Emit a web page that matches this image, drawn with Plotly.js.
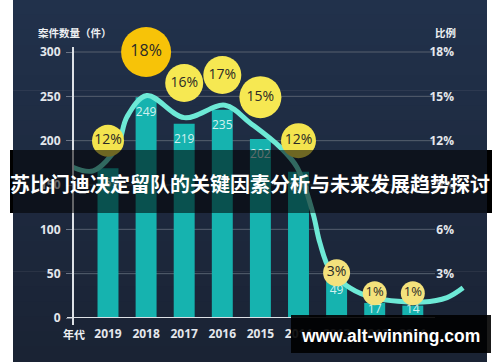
<!DOCTYPE html>
<html><head><meta charset="utf-8">
<script src="https://cdn.plot.ly/plotly-3.0.1.min.js"></script>
<style>html,body{margin:0;padding:0;background:#fff;}#chart{width:500px;height:362px;}</style>
</head><body><div id="chart"></div>
<script>
// ---- data ----
const years = ['2019','2018','2017','2016','2015','2014','2013','2012','2011'];
const caseCounts = [169, 249, 219, 235, 202, 165, 49, 17, 14];
const ratioLabels = ['12%','18%','16%','17%','15%','12%','3%','1%','1%'];
const trendX = [-0.92, -0.39, 0.24, 0.5, 1.02, 2.0, 3.07, 3.73, 4.51, 4.96, 5.38, 5.56, 5.83, 6.35, 6.96, 8.27, 8.9, 9.32];
const trendY = [170, 166, 193, 227, 251, 226, 240, 220, 193, 170, 118, 85, 54, 34, 23, 18, 23, 34];
const leftTicks = [0, 50, 100, 150, 200, 250, 300];
const rightTicks = [0, 3, 6, 9, 12, 15, 18];
const rightTickText = ['0', '3%', '6%', '9%', '12%', '15%', '18%'];

// ---- layout helpers (positions / styles) ----
const W = 500, H = 362;
const px2x = p => (p - 108) / 38.1;
const PX = p => p / W;
const PY = p => 1 - p / H;
const idx = years.map((_, i) => i);
// y scale: value 0 at 318px, 300 at 52px; plot area extended up to 30px
const pxPerUnit = (318 - 52) / 300;
const yTopPx = 30;
const yMax = (318 - yTopPx) / pxPerUnit;
const y2Max = yMax * 18 / 300;
const bubbleY = [200, 300, 265, 274, 249, 200, 51, 28, 28];
const bubbleSize = [32, 50, 38, 38, 42, 35, 27, 24, 24];
const bubbleColor = ['#f3e44e', '#f7c308', '#f6e852', '#f6e852', '#f6e852', '#f3e44e', '#f4e27c', '#f4e27c', '#f4e27c'];
const bubbleFont = [14, 16, 14, 14, 14, 14, 14, 13, 13];
const tickFont = {family: 'Open Sans, Noto Sans, sans-serif', size: 12, color: '#e4e7ec', weight: 'bold'};

const traces = [
  {type: 'bar', x: idx, y: caseCounts, width: 0.55,
   marker: {color: '#16b3af', line: {width: 0}}, hoverinfo: 'skip'},
  {type: 'scatter', mode: 'text', x: idx, y: caseCounts.map(v => Math.max(v - 18, 9)),
   text: caseCounts.map(String), cliponaxis: false,
   textfont: {family: 'Open Sans, sans-serif', size: 12, color: 'rgba(228,248,247,0.92)'}, hoverinfo: 'skip'},
  {type: 'scatter', mode: 'lines', x: trendX, y: trendY,
   line: {shape: 'spline', smoothing: 1, color: '#6de9d6', width: 5}, hoverinfo: 'skip'},
  {type: 'scatter', mode: 'markers+text', x: idx, y: bubbleY, text: ratioLabels,
   textposition: 'middle center', cliponaxis: false,
   marker: {size: bubbleSize, color: bubbleColor, line: {width: 0}, opacity: 1},
   textfont: {family: 'Open Sans, Noto Sans, sans-serif', size: bubbleFont, color: '#2b2a26'}, hoverinfo: 'skip'},
  {type: 'scatter', x: [null], y: [null], yaxis: 'y2', hoverinfo: 'skip'}
];

const shapes = [];
// background gradient bands
const nB = 24;
const bgTop = [33, 49, 75], bgBot = [26, 35, 52];
for (let i = 0; i < nB; i++) {
  const t = i / (nB - 1);
  const c = bgTop.map((v, k) => Math.round(v + (bgBot[k] - v) * t));
  shapes.push({type: 'rect', xref: 'paper', yref: 'paper', x0: PX(13), x1: PX(487),
    y0: PY((i + 1) * H / nB) - 0.001, y1: PY(i * H / nB) + 0.001, fillcolor: `rgb(${c.join(',')})`,
    line: {width: 0}, layer: 'below'});
}
// gridlines
leftTicks.filter(t => t > 0).forEach(t => shapes.push({type: 'line', xref: 'paper', yref: 'y',
  x0: PX(73), x1: PX(435), y0: t, y1: t, line: {color: '#56606f', width: 1}, layer: 'below'}));
// axis lines
shapes.push({type: 'line', xref: 'paper', yref: 'y', x0: PX(67), x1: PX(435), y0: 0, y1: 0,
  line: {color: '#dde1e6', width: 2}, layer: 'above'});
shapes.push({type: 'line', xref: 'paper', yref: 'paper', x0: PX(73), x1: PX(73), y0: PY(325), y1: PY(47),
  line: {color: '#dde1e6', width: 2}, layer: 'above'});
// title banner
shapes.push({type: 'rect', xref: 'paper', yref: 'paper', x0: PX(10), x1: PX(492), y0: PY(213), y1: PY(150),
  fillcolor: 'rgba(0,0,0,0.55)', line: {width: 0}, layer: 'above'});
shapes.push({type: 'rect', xref: 'paper', yref: 'paper', x0: PX(10), x1: PX(13), y0: PY(213), y1: PY(150),
  fillcolor: '#000', line: {width: 0}, layer: 'above'});
shapes.push({type: 'rect', xref: 'paper', yref: 'paper', x0: PX(487), x1: PX(492), y0: PY(213), y1: PY(150),
  fillcolor: '#000', line: {width: 0}, layer: 'above'});
// watermark box
shapes.push({type: 'rect', xref: 'paper', yref: 'paper', x0: PX(291), x1: PX(491), y0: PY(353), y1: PY(315),
  fillcolor: 'rgba(0,0,0,0.9)', line: {width: 0}, layer: 'above'});

const cjk = 'Noto Sans CJK SC, sans-serif';
const ann = (x, y, text, font) => ({xref: 'paper', yref: 'paper', x: PX(x), y: PY(y), text: text,
  showarrow: false, xanchor: 'center', yanchor: 'middle', font: font});
const annotations = [
  ann(75, 32, '案件数量（件）', {family: cjk, size: 10.5, color: '#eef0f3', weight: 'bold'}),
  ann(445, 32, '比例', {family: cjk, size: 10.5, color: '#eef0f3', weight: 'bold'}),
  ann(74, 334, '年代', {family: cjk, size: 11, color: '#eef0f3', weight: 'bold'}),
  ann(250, 183, '苏比门迪决定留队的关键因素分析与未来发展趋势探讨', {family: cjk, size: 20, color: '#ffffff', weight: 'bold'}),
  ann(390, 336, 'www.alt-winning.com', {family: 'Liberation Sans, Arial, sans-serif', size: 17.5, color: '#ffffff', weight: 'bold'})
];

const layout = {
  width: W, height: H, margin: {l: 0, r: 0, t: 0, b: 0},
  paper_bgcolor: '#ffffff', plot_bgcolor: 'rgba(0,0,0,0)', showlegend: false,
  xaxis: {domain: [PX(73), PX(470)], range: [px2x(73), px2x(470)], tickvals: idx, ticktext: years,
    showgrid: false, zeroline: false, showline: false, ticks: '', tickfont: tickFont, fixedrange: true,
    ticklabelstandoff: 7},
  yaxis: {domain: [PY(318), PY(yTopPx)], range: [0, yMax], tickvals: leftTicks, showgrid: false, zeroline: false,
    showline: false, ticks: 'outside', ticklen: 6, tickwidth: 1, tickcolor: '#6b7586', tickfont: tickFont,
    fixedrange: true, ticklabelstandoff: 3},
  yaxis2: {overlaying: 'y', side: 'right', anchor: 'free', position: PX(457), range: [0, y2Max],
    tickvals: rightTicks, ticktext: rightTickText, ticklabelposition: 'inside', showgrid: false,
    zeroline: false, showline: false, ticks: '', tickfont: tickFont, fixedrange: true},
  shapes: shapes, annotations: annotations
};

Plotly.newPlot('chart', traces, layout, {displayModeBar: false, staticPlot: true});
</script>
</body></html>
